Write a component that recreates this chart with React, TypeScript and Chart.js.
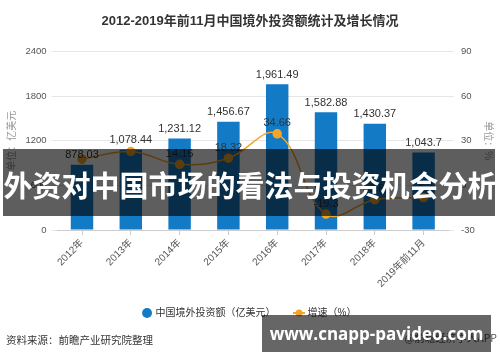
import React, { useEffect, useRef } from "react";
import { Chart, registerables } from "chart.js";

Chart.register(...registerables);

const TITLE = "2012-2019年前11月中国境外投资额统计及增长情况";
const categories = ["2012年", "2013年", "2014年", "2015年", "2016年", "2017年", "2018年", "2019年前11月"];
const investment = [878.03, 1078.44, 1231.12, 1456.67, 1961.49, 1582.88, 1430.37, 1043.7];
const growth = [17.6, 22.8, 14.16, 18.32, 34.66, -19.3, -9.6, -8.2];
const showGrowthLabel = [false, false, true, true, true, true, true, true];
const leftTicks = [0, 600, 1200, 1800, 2400];
const rightTicks = [-30, 0, 30, 60, 90];
const seriesNames = ["中国境外投资额（亿美元）", "增速（%）"];
const axisTitles = ["单位：亿美元", "单位：%"];

const BAR = "#137ac6";
const LINE = "#f3a52a";
const FONT = '"Liberation Sans", "Noto Sans CJK SC", sans-serif';

const fmt = (v: number) => v.toLocaleString("en-US", { maximumFractionDigits: 2 });

const labelPlugin = {
  id: "valueLabels",
  afterDatasetsDraw(chart: any) {
    const ctx = chart.ctx;
    ctx.save();
    ctx.font = '11px "Liberation Sans", sans-serif';
    ctx.fillStyle = "#333";
    ctx.textAlign = "center";
    ctx.textBaseline = "middle";
    chart.getDatasetMeta(0).data.forEach((el: any, i: number) => {
      ctx.fillText(fmt(investment[i]), el.x, el.y - 9.5);
    });
    chart.getDatasetMeta(1).data.forEach((el: any, i: number) => {
      if (showGrowthLabel[i]) ctx.fillText(String(growth[i]), el.x, el.y - 10.5);
    });
    ctx.restore();
  },
};

function makeLineMarker() {
  const c = document.createElement("canvas");
  c.width = 12;
  c.height = 8;
  const g = c.getContext("2d")!;
  g.strokeStyle = LINE;
  g.lineWidth = 2;
  g.beginPath();
  g.moveTo(0, 4);
  g.lineTo(12, 4);
  g.stroke();
  g.fillStyle = LINE;
  g.beginPath();
  g.arc(6, 4, 3.5, 0, Math.PI * 2);
  g.fill();
  return c;
}

export default function App() {
  const ref = useRef<HTMLCanvasElement>(null);

  useEffect(() => {
    const canvas = ref.current!;
    Chart.defaults.font.family = FONT;
    const lineMarker = makeLineMarker();
    const chart = new Chart(canvas, {
      type: "bar",
      data: {
        labels: categories,
        datasets: [
          {
            type: "bar",
            label: seriesNames[0],
            data: investment,
            backgroundColor: BAR,
            yAxisID: "y",
            order: 1,
            barPercentage: 0.46,
            categoryPercentage: 1,
          } as any,
          {
            type: "line",
            label: seriesNames[1],
            data: growth,
            borderColor: LINE,
            backgroundColor: LINE,
            pointBackgroundColor: LINE,
            pointBorderColor: LINE,
            pointRadius: 4,
            borderWidth: 1.5,
            tension: 0.4,
            yAxisID: "y1",
            order: 0,
          } as any,
        ],
      },
      options: {
        animation: false,
        responsive: false,
        devicePixelRatio: 1,
        layout: { padding: { left: 0, right: 0, top: 0, bottom: 34 } },
        plugins: {
          title: {
            display: true,
            text: TITLE,
            color: "#333",
            font: { size: 13, weight: "bold", family: FONT },
            padding: { top: 14, bottom: 22 },
          },
          legend: {
            position: "bottom",
            labels: {
              usePointStyle: true,
              boxWidth: 7,
              boxHeight: 7,
              padding: 20,
              color: "#333",
              font: { size: 10, family: FONT },
              sort: (a: any, b: any) => a.datasetIndex - b.datasetIndex,
              generateLabels: (ch: any) => {
                const items = (Chart.defaults.plugins.legend.labels as any).generateLabels(ch);
                items.forEach((it: any) => {
                  if (it.datasetIndex === 1) {
                    it.pointStyle = lineMarker;
                  } else {
                    it.pointStyle = "circle";
                    it.fillStyle = BAR;
                    it.strokeStyle = BAR;
                    it.lineWidth = 0;
                  }
                });
                return items;
              },
            },
          } as any,
          tooltip: { enabled: false },
        },
        scales: {
          x: {
            offset: true,
            grid: { display: true, drawOnChartArea: false, drawTicks: true, tickLength: 5, offset: false, color: "#ccc" },
            border: { display: true, color: "#ccc" },
            ticks: { minRotation: 45, maxRotation: 45, autoSkip: false, color: "#555", font: { size: 10 }, padding: 2 },
            afterFit: (s: any) => {
              s.height = 58;
            },
          } as any,
          y: {
            position: "left",
            min: leftTicks[0],
            max: leftTicks[leftTicks.length - 1],
            ticks: {
              stepSize: leftTicks[1] - leftTicks[0],
              color: "#555",
              font: { size: 9.5 },
              padding: 5,
              callback: (v: any) => String(v),
            },
            grid: { color: "#e6e6e6", drawTicks: true, tickLength: 6 },
            border: { display: false },
            title: { display: true, text: axisTitles[0], color: "#999", font: { size: 10 }, padding: { top: 6, bottom: 0 } },
            afterFit: (s: any) => {
              s.width = 57.6;
            },
          } as any,
          y1: {
            position: "right",
            min: rightTicks[0],
            max: rightTicks[rightTicks.length - 1],
            ticks: {
              stepSize: rightTicks[1] - rightTicks[0],
              color: "#555",
              font: { size: 9.5 },
              padding: 7,
              callback: (v: any) => String(v),
            },
            grid: { color: "#e6e6e6", drawOnChartArea: false, drawTicks: true, tickLength: 6 },
            border: { display: false },
            title: { display: true, text: axisTitles[1], color: "#999", font: { size: 10 }, padding: { top: 6, bottom: 0 } },
            afterFit: (s: any) => {
              s.width = 52;
            },
          } as any,
        },
      },
      plugins: [labelPlugin],
    });
    return () => chart.destroy();
  }, []);

  return (
    <div
      style={{
        position: "absolute",
        left: 0,
        top: 0,
        width: 500,
        height: 362,
        background: "#fff",
        overflow: "hidden",
        fontFamily: '"Noto Sans CJK SC", sans-serif',
      }}
    >
      <canvas ref={ref} width={500} height={362} style={{ position: "absolute", left: 0, top: 0, width: 500, height: 362 }} />
      <div style={{ position: "absolute", left: 6, top: 333, fontSize: 10.5, lineHeight: "14px", color: "#333", whiteSpace: "nowrap" }}>
        资料来源：前瞻产业研究院整理
      </div>
      <div style={{ position: "absolute", right: 3, top: 331, fontSize: 10.5, lineHeight: "14px", color: "#555", whiteSpace: "nowrap" }}>
        @前瞻经济学人APP
      </div>
      <div
        style={{
          position: "absolute",
          left: 262,
          top: 315,
          width: 229,
          height: 37,
          background: "rgba(0,0,0,0.6)",
          color: "#fff",
          fontFamily: '"Open Sans", sans-serif',
          fontWeight: 700,
          fontSize: 17,
          lineHeight: "37px",
          textAlign: "center",
          whiteSpace: "nowrap",
        }}
      >
        www.cnapp-pavideo.com
      </div>
      <div style={{ position: "absolute", left: 3, top: 149, width: 492, height: 67, background: "rgba(0,0,0,0.63)" }} />
      <div
        style={{
          position: "absolute",
          left: 0,
          top: 151,
          width: 500,
          height: 67,
          lineHeight: "67px",
          textAlign: "center",
          color: "#fff",
          fontWeight: 700,
          fontSize: 29,
          whiteSpace: "nowrap",
        }}
      >
        外资对中国市场的看法与投资机会分析
      </div>
    </div>
  );
}
